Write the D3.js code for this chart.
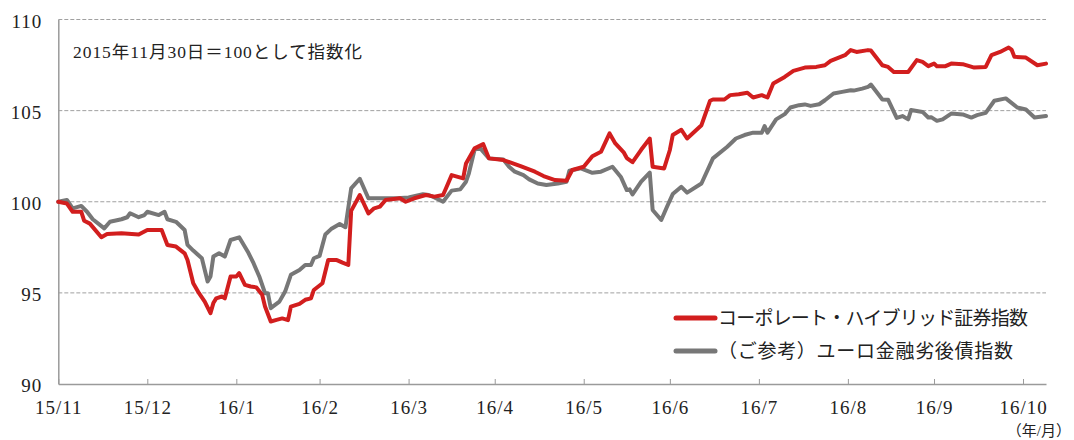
<!DOCTYPE html>
<html>
<head>
<meta charset="utf-8">
<script src="https://cdn.jsdelivr.net/npm/d3@7"></script>
<style>
  html, body { margin: 0; padding: 0; background: #fff; }
  svg { display: block; }
  .num { font-family: "Liberation Serif", "DejaVu Serif", serif; }
  .jp { font-family: "Liberation Serif", "Noto Sans CJK JP", serif; }
</style>
</head>
<body>
<svg id="chart" width="1074" height="440"></svg>
<script>
// ---- data ----
const redDates = ["2015-11-30","2015-12-03","2015-12-05","2015-12-08","2015-12-09","2015-12-11","2015-12-15","2015-12-17","2015-12-22","2015-12-28","2015-12-31",
"2016-01-05","2016-01-07","2016-01-10","2016-01-13","2016-01-14","2016-01-16","2016-01-18","2016-01-20","2016-01-22","2016-01-23","2016-01-24","2016-01-26","2016-01-27","2016-01-29","2016-01-31",
"2016-02-01","2016-02-03","2016-02-05","2016-02-07","2016-02-09","2016-02-10","2016-02-12","2016-02-14","2016-02-16","2016-02-18","2016-02-19","2016-02-22","2016-02-24","2016-02-26","2016-02-27",
"2016-03-01","2016-03-03","2016-03-06","2016-03-08","2016-03-10","2016-03-11","2016-03-14","2016-03-17","2016-03-19","2016-03-21","2016-03-23","2016-03-28","2016-03-30",
"2016-04-02","2016-04-06","2016-04-09","2016-04-12","2016-04-13","2016-04-15","2016-04-19","2016-04-20","2016-04-23","2016-04-26","2016-04-28",
"2016-05-03","2016-05-09","2016-05-14","2016-05-17","2016-05-21","2016-05-25","2016-05-27","2016-05-31",
"2016-06-03","2016-06-06","2016-06-09","2016-06-11","2016-06-14","2016-06-15","2016-06-17","2016-06-20","2016-06-23","2016-06-24","2016-06-28","2016-06-30",
"2016-07-01","2016-07-04","2016-07-06","2016-07-11","2016-07-14","2016-07-15","2016-07-19","2016-07-21","2016-07-24","2016-07-27","2016-07-29",
"2016-08-01","2016-08-03","2016-08-05","2016-08-09","2016-08-12","2016-08-16","2016-08-20","2016-08-23","2016-08-25","2016-08-30",
"2016-09-01","2016-09-03","2016-09-07","2016-09-08","2016-09-12","2016-09-14","2016-09-16","2016-09-21","2016-09-24","2016-09-26","2016-09-28","2016-09-30",
"2016-10-01","2016-10-04","2016-10-06","2016-10-10","2016-10-14","2016-10-18","2016-10-20","2016-10-23","2016-10-26","2016-10-27","2016-10-28",
"2016-11-01","2016-11-05","2016-11-08"];
const redValues = [100.0,99.9,99.45,99.45,98.96,98.8,98.05,98.23,98.27,98.2,98.45,
98.45,97.63,97.54,97.17,96.8,95.53,94.98,94.52,93.89,94.44,94.7,94.8,94.7,95.9,95.9,
96.08,95.44,95.35,95.3,94.9,94.25,93.43,93.52,93.6,93.5,94.25,94.4,94.62,94.7,95.16,
95.53,96.8,96.8,96.66,96.53,99.5,100.37,99.36,99.64,99.73,100.1,100.19,100.0,
100.19,100.37,100.28,100.37,100.73,101.46,101.28,102.1,102.93,103.16,102.38,
102.29,101.96,101.65,101.41,101.19,101.15,101.74,101.92,
102.5,102.74,103.75,103.2,102.69,102.4,102.17,102.85,103.47,101.92,101.83,102.84,
103.66,103.95,103.47,104.2,105.54,105.61,105.61,105.85,105.9,105.98,105.72,
105.85,105.72,106.49,106.85,107.18,107.36,107.4,107.49,107.73,108.04,
108.32,108.22,108.32,108.3,107.49,107.4,107.12,107.12,107.77,107.67,107.44,107.58,
107.44,107.44,107.58,107.55,107.36,107.4,108.04,108.22,108.46,108.35,107.95,
107.91,107.49,107.58];

const grayDates = ["2015-11-30","2015-12-03","2015-12-05","2015-12-08","2015-12-10","2015-12-12","2015-12-16","2015-12-18","2015-12-22","2015-12-24","2015-12-25","2015-12-28","2015-12-30","2015-12-31",
"2016-01-04","2016-01-06","2016-01-07","2016-01-10","2016-01-13","2016-01-14","2016-01-16","2016-01-19","2016-01-21","2016-01-22","2016-01-23","2016-01-25","2016-01-27","2016-01-29",
"2016-02-01","2016-02-04","2016-02-06","2016-02-08","2016-02-10","2016-02-11","2016-02-12","2016-02-15","2016-02-17","2016-02-19","2016-02-22","2016-02-24","2016-02-26","2016-02-27","2016-02-29",
"2016-03-02","2016-03-04","2016-03-07","2016-03-09","2016-03-11","2016-03-14","2016-03-17","2016-03-21","2016-03-27","2016-03-31",
"2016-04-05","2016-04-07","2016-04-09","2016-04-12","2016-04-15","2016-04-18","2016-04-20","2016-04-21","2016-04-23","2016-04-25","2016-04-28",
"2016-05-03","2016-05-05","2016-05-07","2016-05-10","2016-05-12","2016-05-15","2016-05-18","2016-05-22","2016-05-25","2016-05-26","2016-05-30",
"2016-06-03","2016-06-06","2016-06-10","2016-06-13","2016-06-15","2016-06-16","2016-06-17","2016-06-20","2016-06-23","2016-06-24","2016-06-27","2016-06-29",
"2016-07-01","2016-07-04","2016-07-06","2016-07-11","2016-07-15","2016-07-20","2016-07-23","2016-07-26","2016-07-29",
"2016-08-01","2016-08-02","2016-08-03","2016-08-06","2016-08-09","2016-08-11","2016-08-14","2016-08-16","2016-08-18","2016-08-21","2016-08-23","2016-08-26","2016-08-29",
"2016-09-01","2016-09-02","2016-09-05","2016-09-07","2016-09-08","2016-09-12","2016-09-14","2016-09-17","2016-09-19","2016-09-21","2016-09-22","2016-09-26","2016-09-28","2016-09-29",
"2016-10-01","2016-10-03","2016-10-06","2016-10-10","2016-10-13","2016-10-15","2016-10-18","2016-10-21","2016-10-25","2016-10-29",
"2016-11-01","2016-11-04","2016-11-08"];
const grayValues = [100.0,100.1,99.64,99.77,99.45,99.04,98.54,98.9,99.04,99.15,99.37,99.15,99.27,99.45,
99.27,99.45,99.04,98.9,98.45,97.63,97.32,96.9,95.62,95.9,96.99,97.17,96.99,97.9,
98.05,97.26,96.63,95.9,94.98,94.98,94.16,94.52,95.07,95.99,96.26,96.53,96.53,96.9,97.03,
98.2,98.5,98.78,98.6,100.73,101.26,100.19,100.19,100.19,100.24,
100.41,100.37,100.24,100.0,100.61,100.68,101.1,101.56,102.87,102.93,102.38,
102.32,101.92,101.65,101.46,101.23,101.0,100.92,101.0,101.1,101.7,101.83,
101.59,101.65,101.92,101.34,100.64,100.68,100.4,101.1,101.6,99.55,99.0,99.73,
100.42,100.82,100.5,101.0,102.38,103.02,103.47,103.66,103.79,
103.79,104.15,103.79,104.52,104.81,105.17,105.3,105.34,105.26,105.35,105.57,105.94,106.03,
106.12,106.1,106.21,106.3,106.43,105.61,105.6,104.6,104.7,104.52,105.03,104.93,104.62,104.64,
104.44,104.52,104.84,104.79,104.62,104.75,104.88,105.54,105.67,105.17,
105.06,104.62,104.7];

const tickDates = ["2015-11-30","2015-12-31","2016-01-31","2016-02-29","2016-03-31","2016-04-30","2016-05-31","2016-06-30","2016-07-31","2016-08-31","2016-09-30","2016-10-31"];
const tickLabels = ["15/11","15/12","16/1","16/2","16/3","16/4","16/5","16/6","16/7","16/8","16/9","16/10"];
const yTicks = [90, 95, 100, 105, 110];
const gridValues = [95, 100, 105, 110];
const seriesNames = ["コーポレート・ハイブリッド証券指数", "（ご参考）ユーロ金融劣後債指数"];
const noteText = "2015年11月30日＝100として指数化";
const unitText = "（年/月）";

// ---- drawing ----
const parse = d3.timeParse("%Y-%m-%d");
const svg = d3.select("#chart");

const x = d3.scaleTime()
  .domain([parse("2015-11-30"), parse("2016-11-08")])
  .range([58.3, 1046]);
const y = d3.scaleLinear().domain([90, 110]).range([384, 19.5]);

const axisColor = "#9a9a9a";

// grid
svg.append("g").selectAll("line").data(gridValues).join("line")
  .attr("x1", x.range()[0]).attr("x2", x.range()[1])
  .attr("y1", d => y(d)).attr("y2", d => y(d))
  .attr("stroke", "#a0a0a0").attr("stroke-width", 1)
  .attr("stroke-dasharray", "4,2");

// x axis
const xAxis = d3.axisBottom(x)
  .tickValues(tickDates.map(parse))
  .tickFormat((d, i) => tickLabels[i])
  .tickSizeInner(-5).tickSizeOuter(0).tickPadding(17);
const gx = svg.append("g").attr("transform", `translate(0,${y(90)})`).call(xAxis);
gx.select(".domain").attr("stroke", axisColor).attr("stroke-width", 1.5);
gx.selectAll(".tick line").attr("stroke", axisColor).attr("stroke-width", 1);
gx.selectAll(".tick text").attr("class", "num").attr("font-size", 19)
  .attr("letter-spacing", 1).attr("fill", "#222");

// y axis
const yAxis = d3.axisLeft(y).tickValues(yTicks).tickFormat(d3.format("d"))
  .tickSize(0).tickPadding(16);
const gy = svg.append("g").attr("transform", `translate(${x.range()[0]},0)`).call(yAxis);
gy.select(".domain").attr("stroke", axisColor).attr("stroke-width", 1.5);
gy.selectAll(".tick text").attr("class", "num").attr("font-size", 19)
  .attr("letter-spacing", 1).attr("dy", "0.42em").attr("fill", "#222");

// lines
const line = d3.line().x(d => x(d[0])).y(d => y(d[1]));
const grayData = grayDates.map((d, i) => [parse(d), grayValues[i]]);
const redData = redDates.map((d, i) => [parse(d), redValues[i]]);
const colors = ["#d21e1e", "#777777"];

svg.append("path").datum(grayData).attr("d", line)
  .attr("fill", "none").attr("stroke", colors[1]).attr("stroke-width", 4)
  .attr("stroke-linejoin", "round").attr("stroke-linecap", "round");
svg.append("path").datum(redData).attr("d", line)
  .attr("fill", "none").attr("stroke", colors[0]).attr("stroke-width", 4)
  .attr("stroke-linejoin", "round").attr("stroke-linecap", "round");

// note
svg.append("text").attr("class", "jp").attr("x", 73).attr("y", 58)
  .attr("font-size", 17.5).attr("textLength", 289).attr("lengthAdjust", "spacing")
  .attr("fill", "#222").text(noteText);

// legend
const legY = [318, 351];
const legW = [310, 295];
const leg = svg.append("g");
seriesNames.forEach((name, i) => {
  leg.append("line").attr("x1", 676).attr("x2", 715)
    .attr("y1", legY[i]).attr("y2", legY[i])
    .attr("stroke", colors[i]).attr("stroke-width", 5).attr("stroke-linecap", "round");
  leg.append("text").attr("class", "jp").attr("x", 718).attr("y", legY[i])
    .attr("dy", "0.36em").attr("font-size", 19)
    .attr("textLength", legW[i]).attr("lengthAdjust", "spacing")
    .attr("fill", "#222").text(name);
});

// unit label
svg.append("text").attr("class", "jp").attr("x", 1071).attr("y", 436)
  .attr("text-anchor", "end").attr("font-size", 15).attr("fill", "#222").text(unitText);
</script>
</body>
</html>
